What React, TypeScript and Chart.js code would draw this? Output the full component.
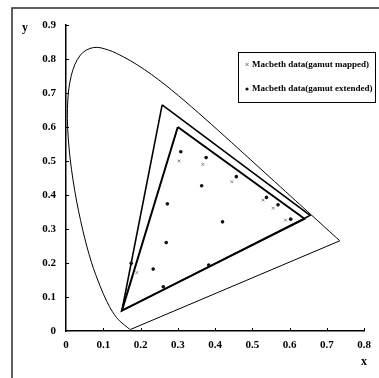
import { useEffect, useRef } from "react";
import { Chart, registerables } from "chart.js";

Chart.register(...registerables);

// CIE 1931 2° spectral locus, 380–700 nm
const locusX = [
  0.1741, 0.1733, 0.1726, 0.1714, 0.1689, 0.1644, 0.1566, 0.144, 0.1355, 0.1241,
  0.1096, 0.0913, 0.0687, 0.0454, 0.0235, 0.0082, 0.0039, 0.0139, 0.0389, 0.0743,
  0.1142, 0.1547, 0.1929, 0.2296, 0.2658, 0.3016, 0.3373, 0.3731, 0.4087, 0.4441,
  0.4788, 0.5125, 0.5448, 0.5752, 0.6029, 0.627, 0.6482, 0.6658, 0.6915, 0.7079,
  0.719, 0.726, 0.7334, 0.7347,
];
const locusY = [
  0.005, 0.0048, 0.0048, 0.0051, 0.0069, 0.0109, 0.0177, 0.0297, 0.0399, 0.0578,
  0.0868, 0.1327, 0.2007, 0.295, 0.4127, 0.5384, 0.6548, 0.7502, 0.812, 0.8338,
  0.8262, 0.8059, 0.7816, 0.7543, 0.7243, 0.6923, 0.6589, 0.6245, 0.5896, 0.5547,
  0.5202, 0.4866, 0.4544, 0.4242, 0.3965, 0.3725, 0.3514, 0.334, 0.3083, 0.292,
  0.2809, 0.274, 0.2666, 0.2653,
];

// Line of purples joining the two ends of the locus
const purpleX = [0.7347, 0.1741];
const purpleY = [0.2653, 0.005];

// Extended (wide) gamut triangle: G, R, B
const wideGamutX = [0.258, 0.655, 0.15, 0.258];
const wideGamutY = [0.665, 0.34, 0.06, 0.665];

// sRGB gamut triangle: G, R, B
const srgbX = [0.3, 0.64, 0.15, 0.3];
const srgbY = [0.6, 0.33, 0.06, 0.6];

// Macbeth chart chromaticities after gamut extension
const extendedX = [0.308, 0.376, 0.364, 0.457, 0.538, 0.569, 0.603, 0.272, 0.269, 0.234, 0.42, 0.261, 0.383, 0.175];
const extendedY = [0.527, 0.51, 0.427, 0.454, 0.393, 0.371, 0.329, 0.374, 0.26, 0.182, 0.321, 0.13, 0.194, 0.199];

// Macbeth chart chromaticities after gamut mapping
const mappedX = [0.303, 0.367, 0.445, 0.529, 0.556, 0.589, 0.19];
const mappedY = [0.5, 0.49, 0.439, 0.385, 0.361, 0.326, 0.172];

const seriesLabels = ["Macbeth data(gamut mapped)", "Macbeth data(gamut extended)"];
const xTitle = "x";
const yTitle = "y";
const xMax = 0.8;
const yMax = 0.9;
const tickStep = 0.1;

const FONT = "'Liberation Serif', 'Times New Roman', serif";

const toPoints = (xs: number[], ys: number[]) => xs.map((x, i) => ({ x, y: ys[i] }));

const fmt = (v: number | string) => {
  const n = Number(v);
  return Math.abs(n) < 1e-9 ? "0" : n.toFixed(1);
};

const decorations = {
  id: "decorations",
  afterDraw(chart: any) {
    const { ctx, scales } = chart;
    const xs = scales.x;
    const ys = scales.y;
    ctx.save();

    // page frame
    ctx.strokeStyle = "#2a2a2a";
    ctx.lineWidth = 1.5;
    ctx.beginPath();
    ctx.moveTo(12, 378);
    ctx.lineTo(12, 8);
    ctx.lineTo(379, 8);
    ctx.stroke();

    // inward tick marks
    ctx.strokeStyle = "#000";
    ctx.lineWidth = 1;
    ctx.beginPath();
    for (let v = tickStep; v <= xMax + 1e-9; v += tickStep) {
      const px = Math.round(xs.getPixelForValue(v)) + 0.5;
      ctx.moveTo(px, ys.bottom);
      ctx.lineTo(px, ys.bottom - 3);
    }
    for (let v = tickStep; v <= yMax + 1e-9; v += tickStep) {
      const py = Math.round(ys.getPixelForValue(v)) + 0.5;
      ctx.moveTo(xs.left, py);
      ctx.lineTo(xs.left + 3, py);
    }
    ctx.stroke();

    // axis titles
    ctx.fillStyle = "#000";
    ctx.font = `bold 12px ${FONT}`;
    ctx.textAlign = "center";
    ctx.textBaseline = "middle";
    ctx.fillText(yTitle, 25, 28);
    ctx.fillText(xTitle, 364, 362);

    // legend box
    const lx = 238, ly = 52, lw = 137, lh = 50;
    ctx.lineWidth = 1;
    ctx.strokeStyle = "#000";
    ctx.strokeRect(lx + 0.5, ly + 0.5, lw, lh);

    const rows = [ly + 13, ly + 37];
    // mapped marker
    ctx.strokeStyle = "#777";
    ctx.beginPath();
    ctx.moveTo(245.5, rows[0] - 2);
    ctx.lineTo(248.5, rows[0] + 1);
    ctx.moveTo(248.5, rows[0] - 2);
    ctx.lineTo(245.5, rows[0] + 1);
    ctx.stroke();
    // extended marker
    ctx.fillStyle = "#111";
    ctx.beginPath();
    ctx.arc(247, rows[1], 1.6, 0, Math.PI * 2);
    ctx.fill();

    ctx.fillStyle = "#000";
    ctx.font = `bold 9px ${FONT}`;
    ctx.textAlign = "left";
    ctx.textBaseline = "middle";
    ctx.fillText(seriesLabels[0], 252, rows[0]);
    ctx.fillText(seriesLabels[1], 252, rows[1]);

    ctx.restore();
  },
};

export default function App() {
  const canvasRef = useRef<HTMLCanvasElement | null>(null);

  useEffect(() => {
    const canvas = canvasRef.current;
    if (!canvas) return;

    const lineDs = (xs: number[], ys: number[], width: number, tension = 0) => ({
      data: toPoints(xs, ys),
      showLine: true,
      borderColor: "#000",
      borderWidth: width,
      pointRadius: 0,
      fill: false,
      tension,
    });

    const chart = new Chart(canvas, {
      type: "scatter",
      data: {
        datasets: [
          {
            label: seriesLabels[1],
            data: toPoints(extendedX, extendedY),
            pointStyle: "circle",
            pointRadius: 1.8,
            backgroundColor: "#111",
            borderWidth: 0,
          },
          {
            label: seriesLabels[0],
            data: toPoints(mappedX, mappedY),
            pointStyle: "crossRot",
            pointRadius: 2,
            borderColor: "#888",
            borderWidth: 1,
          },
          lineDs(srgbX, srgbY, 2),
          lineDs(wideGamutX, wideGamutY, 1.6),
          lineDs(locusX, locusY, 1, 0.35),
          lineDs(purpleX, purpleY, 1),
        ] as any,
      },
      options: {
        animation: false,
        responsive: false,
        layout: { padding: { left: 0, right: 12, top: 25, bottom: 0 } },
        plugins: { legend: { display: false }, tooltip: { enabled: false } },
        scales: {
          x: {
            type: "linear",
            min: 0,
            max: xMax,
            afterFit: (s: any) => {
              s.height = 47;
            },
            border: { display: true, color: "#000", width: 1.5 },
            grid: { display: false, drawTicks: false },
            ticks: {
              stepSize: tickStep,
              padding: 8,
              color: "#000",
              font: { family: FONT, size: 11, weight: "bold" },
              callback: (v: any) => fmt(v),
            },
          },
          y: {
            type: "linear",
            min: 0,
            max: yMax,
            afterFit: (s: any) => {
              s.width = 66;
            },
            border: { display: true, color: "#000", width: 1.5 },
            grid: { display: false, drawTicks: false },
            ticks: {
              stepSize: tickStep,
              padding: 10,
              color: "#000",
              font: { family: FONT, size: 11, weight: "bold" },
              callback: (v: any) => fmt(v),
            },
          },
        },
      } as any,
      plugins: [decorations],
    });

    return () => chart.destroy();
  }, []);

  return (
    <div style={{ position: "absolute", left: 0, top: 0, width: 379, height: 378, background: "#fff" }}>
      <canvas ref={canvasRef} width={379} height={378} style={{ display: "block" }} />
    </div>
  );
}
